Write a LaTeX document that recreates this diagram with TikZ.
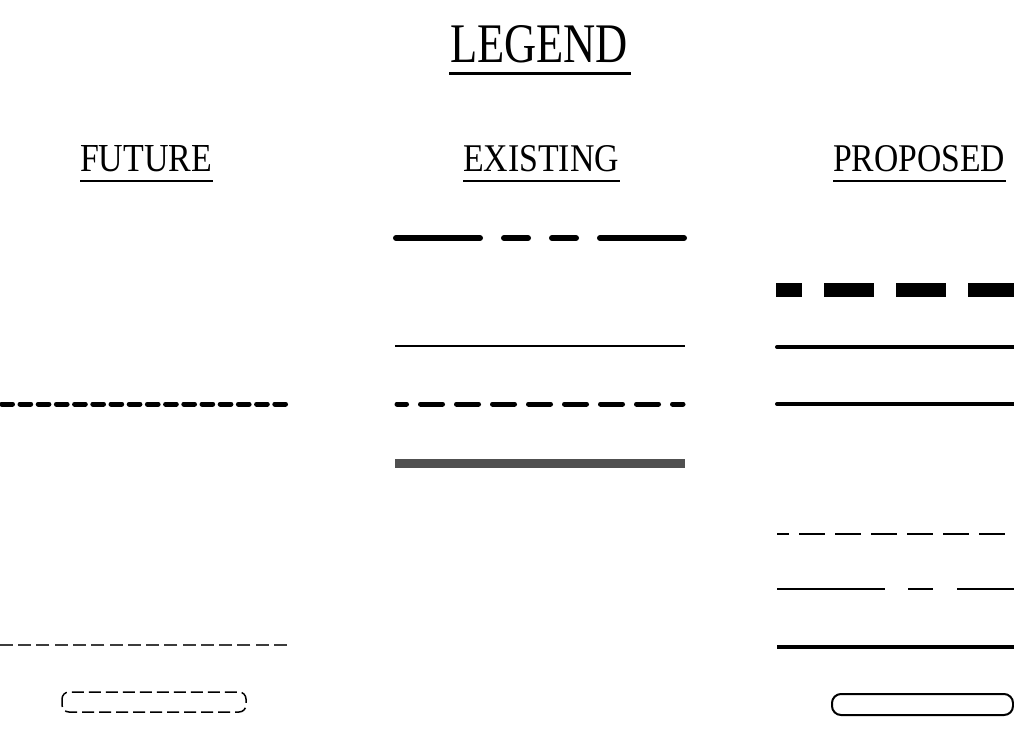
\documentclass[tikz,border=0pt]{standalone}
\usepackage{fontspec}
\setmainfont{Liberation Serif}
\begin{document}
\begin{tikzpicture}[x=1pt,y=-1pt,
  head/.style={anchor=base west,inner sep=0pt,outer sep=0pt},
  uline/.style={line width=2pt},
  thinline/.style={line width=1.5pt},
  midline/.style={line width=4pt,line cap=round},
]
\useasboundingbox (0,0) rectangle (1014,742);
% headings
\node[head] (legend) at (450,62) {\resizebox{178pt}{37pt}{LEGEND}};
\node[head] (future) at (80,171) {\resizebox{132pt}{26pt}{FUTURE}};
\node[head] (existing) at (463,171) {\resizebox{156pt}{26pt}{EXISTING}};
\node[head] (proposed) at (833,171) {\resizebox{172pt}{26pt}{PROPOSED}};
\draw[line width=2.5pt] ([yshift=-11pt,xshift=-1pt]legend.south west) -- ([yshift=-11pt,xshift=3pt]legend.south east);
\draw[uline] ([yshift=-10pt]future.south west) -- ([yshift=-10pt,xshift=1pt]future.south east);
\draw[uline] ([yshift=-10pt]existing.south west) -- ([yshift=-10pt,xshift=1pt]existing.south east);
\draw[uline] ([yshift=-10pt]proposed.south west) -- ([yshift=-10pt,xshift=1pt]proposed.south east);

% EXISTING column
\draw[line width=6pt,line cap=round,dash pattern=on 84pt off 24pt on 24pt off 24pt on 24pt off 24pt on 84pt off 30pt]
  (396,238) -- (684,238);
\draw[thinline] (395,346) -- (685,346);
\draw[line width=5pt,line cap=round,dash pattern=on 22pt off 14pt,dash phase=11.5pt]
  (683,404) -- (397,404);
\draw[line width=9pt,color={rgb,255:red,80;green,80;blue,80}] (395,463) -- (685,463);

% FUTURE column
\draw[line width=5pt,line cap=round,dash pattern=on 10.7pt off 7.5pt]
  (285.5,404) -- (-12,404);
\draw[line width=2pt,color={rgb,255:red,60;green,60;blue,60},dash pattern=on 13pt off 5.27pt]
  (287,645) -- (-12,645);
\draw[line width=1.5pt,rounded corners=7pt,dash pattern=on 12pt off 5pt,dash phase=4pt]
  (62,692) rectangle (246,712);

% PROPOSED column
\draw[line width=14pt,dash pattern=on 50pt off 22pt,dash phase=24pt] (776,290) -- (1014,290);
\draw[midline] (777,347) -- (1016,347);
\draw[midline] (777,404) -- (1016,404);
\draw[line width=2.5pt,dash pattern=on 26pt off 10pt,dash phase=14pt] (777,534) -- (1014,534);
\draw[thinline,dash pattern=on 108pt off 23pt on 25pt off 24pt on 200pt off 10pt] (777,589) -- (1014,589);
\draw[line width=3.5pt] (777,647) -- (1014,647);
\draw[line width=2pt,rounded corners=9pt] (832,694) rectangle (1013,715);
\end{tikzpicture}
\end{document}
